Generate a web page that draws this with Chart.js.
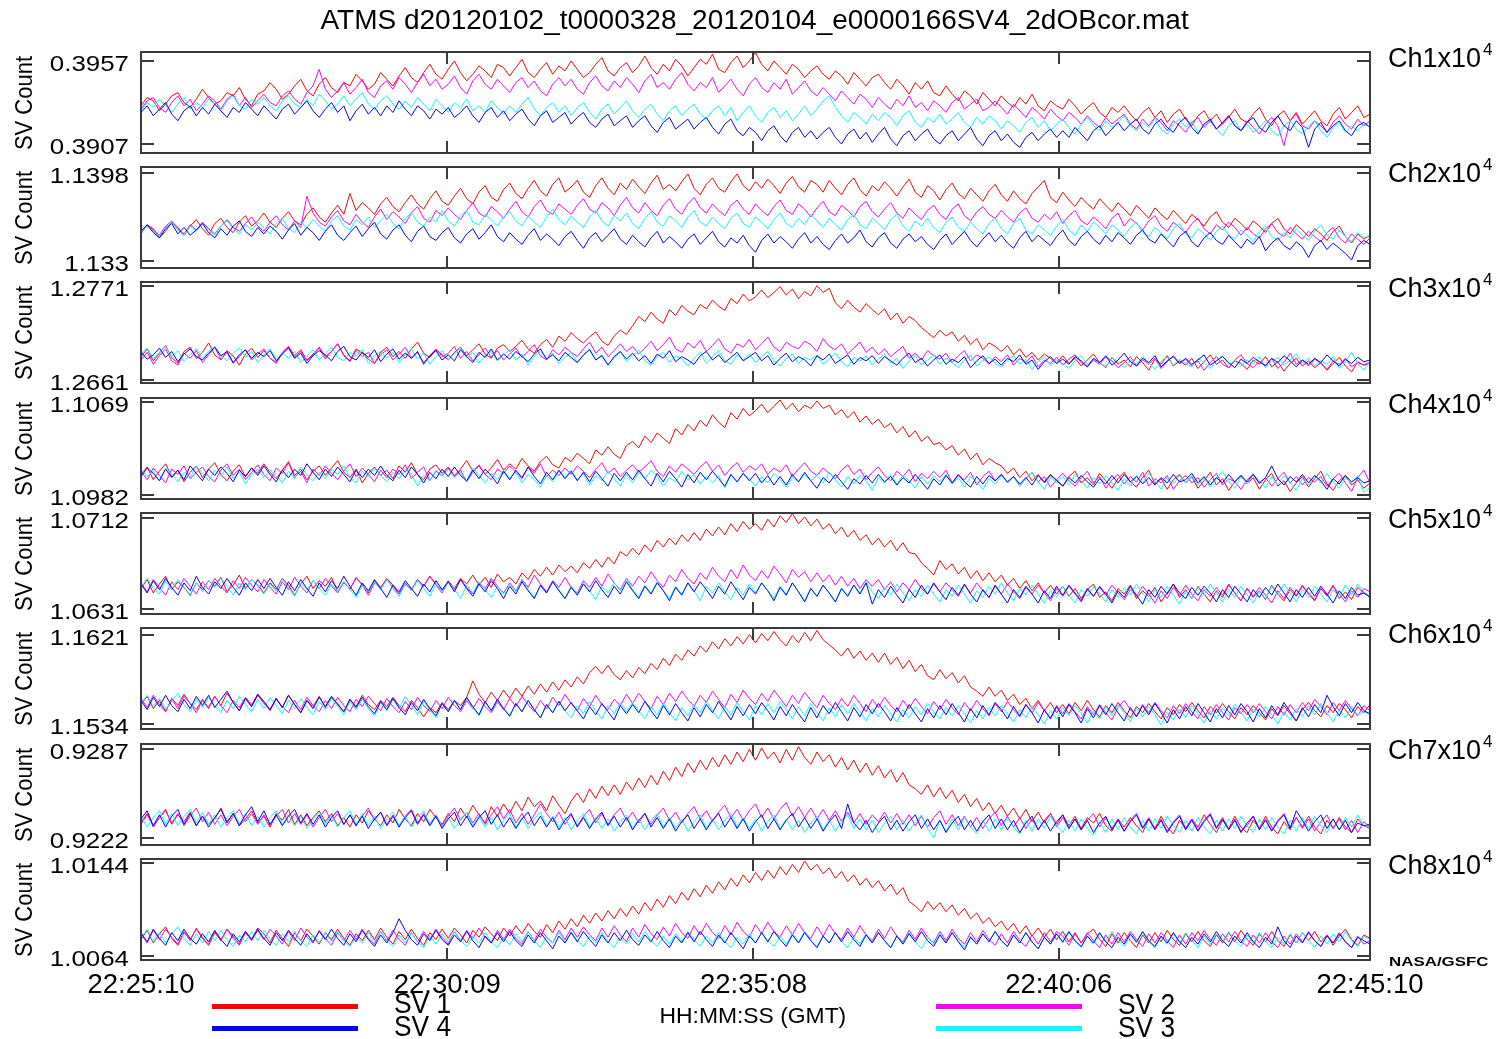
<!DOCTYPE html>
<html>
<head>
<meta charset="utf-8">
<title>ATMS space-view counts</title>
<script src="https://cdn.jsdelivr.net/npm/chart.js"></script>
<style>
  html, body { margin: 0; padding: 0; background: #fff; }
  #page { position: relative; width: 1501px; height: 1039px; overflow: hidden; background: #fff;
          font-family: "Liberation Sans", Arial, Helvetica, sans-serif; color: #000; }
  canvas.panel { position: absolute; left: 0; }
  .txt { position: absolute; white-space: nowrap; line-height: 1; }
  .swatch { position: absolute; height: 5px; }
</style>
</head>
<body>
<div id="page"></div>
<script>
// ---- Time axis (seconds after 22:25:10 GMT) ----
const SAMPLE_STEP_S = 6;
const X_MAX_S = 1200;
const XTICK_SECONDS = [0, 299, 598, 896, 1200];
const XTICK_LABELS = ['22:25:10', '22:30:09', '22:35:08', '22:40:06', '22:45:10'];

// ---- Channels: printed tick values (counts) and axis limits ----
const CHANNELS = ['Ch1', 'Ch2', 'Ch3', 'Ch4', 'Ch5', 'Ch6', 'Ch7', 'Ch8'];
const TICK_HI = [3957, 11398, 12771, 11069, 10712, 11621, 9287, 10144];
const TICK_LO = [3907, 11330, 12661, 10982, 10631, 11534, 9222, 10064];
const AXIS_MAX = [3962.4, 11402.3, 12775.3, 11072.8, 10716.5, 11627.4, 9290.9, 10147.7];
const AXIS_MIN = [3901.6, 11324.9, 12657.1, 10977.9, 10626.2, 11529.2, 9216.9, 10060.3];

// ---- Space-view counts, one sample every 6 s ----
const ch1_sv1 = [3930,3935,3933,3927,3931,3936,3938,3932,3929,3934,3940,3935,3931,3933,3938,3936,3941,3934,3930,3937,3939,3944,3940,3934,3937,3942,3946,3939,3936,3943,3947,3941,3938,3944,3942,3949,3945,3940,3943,3950,3946,3942,3948,3953,3947,3944,3950,3955,3949,3946,3952,3957,3950,3945,3949,3954,3951,3947,3955,3953,3948,3953,3958,3950,3947,3952,3956,3949,3954,3951,3957,3952,3947,3950,3955,3959,3951,3948,3953,3956,3950,3954,3960,3953,3949,3955,3951,3958,3954,3948,3953,3958,3955,3961,3952,3950,3956,3960,3953,3957,3962,3955,3951,3957,3953,3949,3955,3952,3947,3951,3954,3949,3946,3951,3948,3943,3950,3946,3942,3947,3949,3944,3940,3946,3942,3937,3944,3940,3945,3938,3936,3942,3937,3933,3939,3936,3931,3938,3934,3930,3936,3932,3929,3935,3931,3937,3930,3927,3933,3930,3928,3934,3930,3925,3929,3932,3926,3923,3929,3926,3930,3925,3921,3926,3929,3923,3927,3920,3925,3928,3922,3918,3924,3927,3921,3925,3919,3923,3928,3922,3920,3925,3929,3922,3918,3924,3927,3921,3926,3919,3923,3927,3921,3918,3925,3929,3922,3926,3930,3923,3925];
const ch1_sv2 = [3928,3933,3935,3929,3926,3932,3936,3930,3934,3927,3931,3936,3933,3928,3934,3937,3930,3935,3929,3933,3937,3932,3930,3936,3939,3934,3931,3938,3942,3952,3940,3935,3939,3944,3937,3941,3946,3938,3935,3942,3945,3940,3947,3943,3938,3944,3949,3942,3946,3940,3943,3948,3941,3937,3945,3949,3943,3940,3946,3942,3938,3944,3947,3941,3945,3939,3936,3943,3947,3942,3946,3940,3937,3944,3948,3942,3939,3945,3941,3947,3943,3938,3945,3949,3941,3944,3940,3946,3950,3943,3939,3944,3941,3947,3938,3942,3946,3940,3936,3943,3947,3941,3938,3944,3940,3946,3937,3941,3945,3939,3936,3941,3937,3933,3939,3935,3931,3937,3934,3929,3935,3931,3928,3934,3930,3936,3929,3932,3927,3933,3930,3926,3932,3935,3928,3931,3934,3927,3929,3933,3929,3925,3931,3927,3923,3929,3926,3922,3928,3924,3921,3926,3923,3919,3924,3920,3917,3923,3919,3922,3925,3919,3916,3922,3918,3923,3920,3915,3921,3918,3914,3920,3923,3917,3921,3916,3919,3924,3918,3915,3921,3917,3913,3919,3923,3918,3906,3921,3925,3918,3916,3921,3918,3914,3920,3924,3919,3916,3922,3918,3921];
const ch1_sv3 = [3927,3932,3929,3934,3930,3926,3931,3935,3928,3932,3929,3934,3931,3927,3933,3936,3930,3928,3934,3931,3935,3930,3927,3933,3936,3931,3929,3934,3930,3937,3933,3928,3931,3936,3930,3934,3938,3931,3928,3933,3936,3931,3928,3933,3929,3935,3931,3927,3934,3930,3926,3932,3929,3934,3927,3930,3926,3933,3929,3925,3930,3926,3931,3935,3928,3924,3929,3932,3926,3930,3924,3929,3932,3926,3922,3928,3931,3925,3929,3933,3927,3923,3928,3931,3925,3921,3927,3930,3924,3928,3931,3925,3922,3927,3930,3924,3929,3921,3926,3930,3924,3920,3926,3929,3923,3927,3921,3925,3930,3924,3928,3933,3936,3929,3924,3920,3926,3923,3919,3925,3921,3926,3923,3918,3924,3927,3920,3917,3923,3920,3925,3919,3922,3926,3920,3917,3923,3919,3924,3921,3916,3921,3918,3914,3920,3923,3917,3921,3915,3919,3922,3917,3913,3919,3923,3918,3915,3921,3917,3920,3924,3918,3915,3920,3917,3922,3916,3913,3919,3922,3917,3921,3914,3918,3922,3916,3912,3918,3921,3915,3919,3914,3917,3921,3915,3912,3918,3921,3916,3913,3918,3921,3915,3911,3917,3920,3914,3918,3915,3919,3917];
const ch1_sv4 = [3926,3930,3924,3928,3932,3925,3921,3927,3930,3924,3929,3925,3931,3927,3923,3929,3926,3932,3928,3924,3930,3926,3922,3928,3931,3925,3929,3933,3927,3923,3928,3932,3926,3930,3921,3927,3931,3925,3929,3924,3930,3926,3933,3928,3924,3930,3927,3922,3928,3925,3929,3923,3926,3930,3924,3920,3926,3929,3923,3927,3921,3925,3928,3922,3918,3924,3927,3920,3923,3926,3919,3923,3926,3920,3917,3922,3925,3918,3921,3924,3917,3921,3924,3918,3914,3920,3923,3916,3919,3922,3916,3920,3923,3917,3913,3919,3922,3915,3912,3917,3914,3909,3915,3918,3912,3908,3914,3917,3911,3915,3910,3914,3917,3911,3907,3913,3916,3910,3914,3908,3913,3917,3910,3906,3912,3915,3909,3913,3916,3910,3907,3912,3915,3909,3913,3917,3910,3906,3912,3915,3909,3913,3908,3905,3911,3914,3909,3913,3916,3911,3915,3911,3917,3913,3909,3915,3918,3912,3916,3920,3915,3919,3922,3916,3913,3919,3922,3917,3914,3920,3923,3917,3913,3919,3922,3916,3920,3924,3918,3915,3920,3923,3917,3914,3920,3924,3918,3915,3921,3917,3905,3916,3920,3914,3918,3921,3915,3912,3918,3920,3917];

const ch2_sv1 = [11351,11358,11355,11348,11353,11360,11356,11350,11357,11362,11355,11350,11359,11363,11356,11352,11360,11365,11357,11361,11367,11360,11356,11363,11368,11361,11358,11366,11371,11364,11360,11367,11373,11366,11382,11369,11375,11371,11366,11374,11379,11372,11368,11375,11381,11374,11370,11378,11384,11376,11373,11380,11386,11378,11374,11383,11388,11379,11376,11385,11390,11382,11378,11386,11392,11384,11380,11389,11394,11383,11387,11392,11383,11379,11388,11394,11386,11381,11390,11385,11393,11387,11382,11390,11396,11385,11389,11384,11391,11397,11386,11381,11389,11394,11386,11383,11391,11397,11388,11384,11391,11386,11393,11388,11382,11390,11395,11387,11383,11392,11389,11383,11392,11386,11381,11389,11394,11385,11380,11388,11384,11391,11386,11380,11387,11393,11383,11379,11388,11384,11377,11385,11390,11382,11378,11386,11381,11376,11384,11389,11381,11376,11384,11378,11374,11382,11387,11392,11379,11375,11383,11377,11372,11379,11374,11370,11378,11373,11368,11375,11370,11365,11373,11368,11363,11371,11366,11362,11369,11364,11359,11366,11362,11357,11364,11368,11360,11356,11363,11359,11354,11361,11357,11352,11359,11363,11355,11351,11358,11354,11349,11355,11351,11346,11353,11357,11349,11344,11351,11347,11350];
const ch2_sv2 = [11353,11358,11354,11350,11357,11361,11355,11351,11358,11354,11360,11355,11351,11357,11362,11356,11353,11359,11364,11357,11353,11360,11365,11358,11354,11361,11356,11380,11367,11360,11357,11364,11369,11361,11358,11366,11360,11356,11364,11370,11362,11368,11364,11359,11367,11372,11363,11360,11369,11365,11371,11366,11362,11369,11375,11367,11364,11372,11368,11363,11370,11376,11368,11364,11372,11377,11369,11366,11374,11370,11366,11373,11378,11370,11367,11375,11371,11365,11373,11379,11371,11367,11375,11369,11365,11373,11378,11370,11366,11374,11379,11371,11367,11374,11369,11365,11373,11377,11370,11366,11374,11369,11365,11372,11377,11369,11366,11374,11370,11364,11371,11376,11368,11365,11373,11369,11364,11372,11376,11368,11364,11370,11375,11367,11363,11371,11366,11362,11369,11373,11366,11362,11370,11374,11365,11361,11368,11372,11366,11363,11369,11364,11360,11367,11371,11363,11360,11366,11362,11368,11359,11365,11369,11361,11358,11364,11360,11355,11363,11367,11357,11363,11359,11354,11361,11365,11357,11353,11360,11356,11352,11359,11363,11355,11351,11358,11354,11360,11356,11350,11356,11351,11348,11355,11359,11352,11349,11356,11351,11347,11353,11349,11345,11352,11356,11348,11344,11351,11347,11343,11348];
const ch2_sv3 = [11352,11357,11353,11349,11356,11360,11354,11350,11357,11353,11359,11354,11350,11357,11361,11355,11351,11358,11354,11360,11356,11351,11359,11363,11355,11352,11360,11356,11362,11357,11353,11361,11365,11357,11354,11362,11358,11364,11356,11361,11366,11359,11355,11363,11367,11360,11357,11364,11360,11369,11361,11357,11365,11369,11360,11358,11366,11362,11357,11364,11368,11361,11357,11365,11360,11356,11364,11370,11362,11358,11365,11360,11356,11364,11369,11361,11357,11365,11361,11367,11359,11355,11363,11368,11360,11357,11365,11361,11356,11364,11369,11360,11357,11364,11359,11355,11363,11367,11359,11356,11364,11360,11355,11362,11367,11359,11356,11363,11358,11366,11361,11356,11363,11358,11354,11362,11366,11358,11355,11363,11359,11354,11362,11366,11357,11353,11361,11357,11363,11356,11352,11360,11364,11356,11353,11360,11355,11351,11359,11363,11355,11351,11359,11363,11354,11351,11358,11354,11350,11357,11362,11354,11350,11358,11353,11360,11356,11351,11358,11354,11349,11356,11360,11352,11349,11356,11352,11347,11355,11359,11351,11348,11355,11351,11346,11353,11357,11350,11347,11354,11350,11345,11353,11357,11349,11346,11352,11348,11355,11350,11346,11353,11358,11350,11347,11354,11349,11345,11352,11348,11350];
const ch2_sv4 = [11353,11358,11352,11348,11355,11359,11351,11356,11350,11354,11359,11352,11348,11355,11350,11357,11361,11353,11349,11356,11351,11357,11353,11347,11354,11359,11350,11356,11352,11346,11353,11358,11350,11346,11352,11357,11349,11355,11360,11351,11347,11354,11358,11350,11345,11353,11357,11349,11346,11352,11356,11348,11344,11351,11355,11347,11352,11358,11349,11345,11352,11347,11343,11350,11355,11346,11351,11347,11342,11349,11353,11346,11340,11348,11352,11345,11350,11355,11347,11343,11350,11345,11341,11348,11353,11344,11349,11345,11340,11347,11351,11343,11348,11353,11345,11341,11348,11344,11350,11342,11337,11346,11351,11344,11349,11345,11340,11347,11352,11344,11349,11343,11339,11346,11351,11344,11348,11354,11345,11341,11348,11352,11344,11340,11347,11351,11345,11349,11343,11339,11346,11351,11343,11348,11353,11346,11341,11347,11352,11345,11350,11344,11340,11348,11353,11345,11350,11346,11342,11349,11354,11346,11342,11349,11353,11347,11343,11350,11345,11352,11348,11343,11350,11354,11347,11344,11351,11346,11341,11349,11353,11345,11341,11348,11352,11346,11343,11350,11345,11340,11347,11343,11349,11338,11344,11348,11342,11339,11345,11341,11333,11342,11346,11339,11344,11340,11336,11331,11342,11346,11343];

const ch3_sv1 = [12688,12697,12683,12692,12701,12687,12680,12694,12699,12686,12693,12704,12690,12684,12695,12689,12678,12691,12698,12687,12695,12686,12681,12693,12700,12689,12696,12684,12691,12699,12688,12694,12703,12690,12683,12697,12692,12685,12680,12693,12699,12688,12694,12686,12697,12705,12692,12687,12696,12690,12684,12693,12699,12689,12696,12703,12691,12686,12698,12702,12694,12700,12707,12697,12692,12702,12708,12699,12712,12706,12716,12709,12704,12711,12717,12706,12701,12712,12719,12714,12724,12735,12729,12740,12732,12727,12743,12736,12748,12741,12737,12749,12744,12754,12747,12742,12756,12750,12761,12753,12758,12766,12757,12763,12770,12760,12767,12756,12764,12759,12771,12763,12768,12751,12744,12754,12746,12740,12750,12743,12737,12744,12731,12739,12727,12735,12730,12722,12716,12710,12719,12712,12717,12706,12713,12702,12709,12696,12704,12700,12694,12701,12690,12697,12687,12693,12684,12691,12686,12680,12689,12680,12686,12677,12684,12691,12681,12675,12687,12679,12684,12676,12688,12681,12672,12685,12679,12689,12677,12683,12678,12686,12674,12682,12690,12679,12684,12675,12683,12680,12673,12684,12679,12688,12676,12682,12671,12680,12686,12677,12683,12675,12681,12672,12680,12687,12677,12670,12682,12678,12680];
const ch3_sv2 = [12684,12693,12679,12689,12697,12683,12678,12692,12686,12695,12681,12690,12699,12685,12693,12680,12688,12696,12684,12691,12697,12686,12680,12692,12699,12687,12694,12683,12690,12698,12685,12694,12703,12689,12682,12695,12688,12693,12680,12690,12696,12684,12691,12699,12686,12693,12681,12689,12697,12688,12692,12700,12686,12694,12683,12690,12698,12687,12695,12684,12691,12698,12687,12694,12702,12689,12684,12696,12690,12699,12693,12688,12697,12705,12692,12699,12688,12695,12703,12694,12700,12691,12698,12706,12695,12702,12711,12697,12693,12704,12698,12707,12694,12701,12709,12697,12692,12703,12699,12708,12696,12703,12711,12699,12694,12705,12700,12697,12706,12702,12694,12709,12700,12696,12703,12691,12698,12705,12693,12699,12690,12697,12688,12694,12700,12686,12692,12684,12695,12689,12685,12692,12681,12689,12695,12683,12690,12686,12679,12688,12682,12690,12678,12686,12681,12689,12676,12684,12680,12687,12678,12685,12690,12681,12676,12684,12679,12688,12683,12675,12681,12688,12677,12684,12679,12686,12674,12682,12689,12680,12685,12677,12683,12672,12681,12688,12679,12675,12684,12690,12680,12675,12683,12678,12686,12674,12681,12692,12679,12684,12677,12685,12680,12673,12683,12679,12686,12676,12681,12678,12682];
const ch3_sv3 = [12691,12698,12685,12693,12700,12688,12695,12682,12690,12697,12686,12694,12700,12689,12683,12692,12698,12687,12694,12681,12690,12697,12685,12692,12686,12694,12681,12689,12696,12684,12692,12699,12687,12683,12693,12688,12696,12680,12689,12694,12686,12693,12681,12690,12697,12685,12692,12679,12688,12695,12684,12691,12698,12686,12693,12680,12689,12694,12683,12690,12696,12684,12691,12678,12688,12694,12685,12692,12680,12687,12693,12681,12689,12697,12684,12690,12679,12686,12694,12682,12689,12696,12683,12678,12688,12693,12681,12689,12685,12677,12686,12693,12680,12688,12695,12683,12679,12690,12684,12691,12681,12688,12694,12683,12677,12686,12691,12680,12687,12684,12690,12679,12685,12692,12682,12676,12687,12683,12689,12678,12685,12691,12680,12686,12674,12683,12689,12678,12684,12690,12679,12686,12681,12675,12684,12690,12677,12683,12688,12680,12676,12684,12689,12679,12685,12673,12682,12688,12678,12684,12680,12674,12683,12689,12678,12685,12681,12676,12686,12682,12675,12684,12679,12688,12681,12673,12683,12687,12678,12685,12680,12676,12686,12681,12674,12684,12689,12679,12683,12677,12684,12679,12688,12675,12682,12687,12678,12684,12691,12680,12686,12677,12683,12679,12688,12674,12682,12693,12680,12672,12683];
const ch3_sv4 = [12693,12685,12690,12698,12687,12694,12682,12691,12697,12688,12684,12692,12699,12689,12694,12681,12690,12696,12686,12693,12688,12695,12683,12691,12698,12686,12692,12680,12689,12695,12690,12683,12694,12700,12688,12684,12693,12687,12696,12682,12691,12697,12685,12692,12686,12694,12679,12689,12695,12684,12690,12683,12696,12688,12681,12693,12687,12697,12684,12691,12685,12694,12688,12682,12691,12697,12685,12690,12683,12693,12687,12681,12690,12696,12684,12689,12678,12688,12694,12685,12692,12683,12689,12680,12691,12686,12695,12682,12688,12684,12679,12689,12694,12684,12690,12681,12687,12693,12683,12688,12693,12683,12689,12678,12686,12692,12682,12688,12684,12677,12689,12684,12691,12680,12685,12690,12679,12687,12683,12689,12680,12688,12683,12678,12686,12692,12681,12686,12677,12684,12690,12679,12685,12681,12688,12675,12683,12689,12680,12685,12678,12686,12682,12690,12679,12684,12673,12682,12688,12680,12685,12679,12688,12683,12676,12686,12681,12689,12678,12684,12692,12682,12677,12686,12681,12689,12676,12683,12688,12680,12686,12679,12684,12690,12678,12683,12688,12681,12675,12685,12680,12687,12682,12677,12686,12681,12689,12683,12676,12684,12679,12686,12681,12690,12683,12677,12685,12680,12687,12682,12684];

const ch4_sv1 = [11001,11008,10996,11004,11011,10999,11005,10994,11003,11009,10998,11006,11012,11001,10995,11004,11010,10999,11007,11002,11011,11003,10997,11005,11013,11000,11006,10996,11004,11009,11000,11007,11014,11003,10998,11006,10993,11002,11008,11000,11005,10997,11009,11003,11012,11001,10996,11006,11010,11002,11008,11000,11006,11014,11004,11009,11001,11007,11015,11005,11011,11006,11016,11009,11004,11013,11018,11010,11007,11017,11013,11021,11016,11011,11024,11019,11027,11020,11016,11028,11032,11026,11037,11031,11040,11035,11030,11044,11038,11048,11042,11052,11046,11057,11050,11045,11059,11053,11063,11056,11061,11067,11059,11065,11071,11062,11068,11060,11066,11063,11070,11063,11066,11057,11062,11054,11060,11050,11056,11048,11053,11045,11049,11040,11046,11036,11042,11032,11037,11029,11031,11024,11028,11019,11025,11015,11021,11010,11016,11012,11009,11002,11007,10998,11004,10995,11001,10993,11000,10996,10990,10999,11004,10993,10998,10991,11002,10995,10988,10997,11003,10994,10989,10998,11005,10992,10997,10987,10996,11001,10993,10999,10988,10995,11003,10991,10997,10986,10994,11000,10992,10998,10987,10996,11002,10990,10995,10985,10993,10999,10989,10997,11004,10992,10986,10995,11000,10991,10996,10988,10993];
const ch4_sv2 = [11004,10996,11007,11000,10993,11006,11001,11009,10997,11003,11008,10999,10994,11005,11011,11000,11006,10996,11003,11010,11001,10995,11007,11002,11012,10998,11004,10993,11006,11000,11009,11002,10996,11004,11011,10999,11007,11001,10994,11005,10998,11006,11001,11010,10997,11003,11008,10995,11004,11000,11007,10999,11005,10994,11003,11010,11001,10996,11006,11002,11009,11003,10997,11008,11002,11011,10999,11005,11000,11007,11001,11009,11004,10998,11006,11012,11002,11007,10999,11005,11010,11003,11008,11014,11004,10999,11009,11003,11011,11006,11001,11008,11013,11004,11010,11000,11007,11012,11003,11009,11005,11011,11001,11007,11003,11010,10999,11006,11012,11004,11000,11007,11002,10997,11005,11010,11001,11006,10996,11003,11008,11000,10995,11004,10999,11006,10994,11002,10997,11004,10998,11005,10993,11000,10996,11003,10991,10999,11004,10995,11001,10993,10999,10990,10997,11003,10994,10999,10989,10996,11002,10995,10990,10998,11004,10993,10999,10988,10996,11001,10992,10999,10994,11003,10990,10997,10993,11000,10987,10995,11000,10993,10998,10989,10996,11002,10991,10997,10994,10987,10996,11001,10992,10998,10990,10997,11003,10993,10999,10991,10998,10994,10999,10990,10997,11002,10993,10985,10998,11005,10993];
const ch4_sv3 = [11006,10999,11004,10995,11007,11001,10994,11003,10998,11009,11002,10995,11005,10999,11008,10997,11003,10992,11001,11006,10998,11005,11000,10993,11004,10997,11008,11001,10995,11003,10997,11006,11001,11009,10998,10993,11004,10999,11007,11000,10994,11003,10997,11006,11001,10990,11000,10995,11005,10999,11006,10998,11003,10994,11007,11000,10993,11002,10996,11005,10997,11004,10993,11001,10996,10989,11000,10994,11004,10998,11005,10996,11002,10991,11000,10995,11004,10997,10990,11001,10993,11003,10997,11005,10999,10990,10998,10994,11004,10996,11001,10992,10999,10993,11000,10988,11001,10994,11002,10997,10990,10999,10993,11002,10996,10989,10998,10994,11001,10995,11000,10993,11003,10996,10989,10999,10992,11000,10995,10986,10998,10993,11001,10992,11000,10995,10988,10999,10992,11000,10994,11001,10992,10998,10989,10999,10994,10987,10997,10992,11000,10993,10999,10990,10997,11003,10994,10987,10998,10993,10999,10991,11001,10995,10988,10998,10992,11000,10993,10986,10997,10990,11000,10993,11002,10995,10987,10998,10992,11000,10993,11000,10991,10998,10989,10997,11004,10994,10988,10999,10992,11001,10995,10988,10999,10991,11000,10993,10986,10997,10991,11000,10993,11002,10994,10988,10998,10993,11000,10984,10989];
const ch4_sv4 = [10999,11007,11002,10995,11006,10998,11005,10996,11009,11002,10995,11006,11000,11008,11002,10994,11005,10999,11007,11000,11009,11001,10994,11005,10998,11006,11000,11011,11003,10996,11006,10999,11008,11001,10994,11005,10998,11006,11000,11009,11000,10995,11005,10998,11008,11001,10993,11003,10997,11006,10999,11008,11000,10995,11005,10997,11006,11000,10992,11004,10996,11005,10998,11008,10999,10992,11003,10996,11005,10997,11004,10995,11003,10994,11004,10997,10990,11002,10995,11003,10996,11005,10997,10990,11002,10994,11004,10997,10989,11001,10993,11003,10996,11004,10997,10990,11001,10994,11002,10995,11002,10993,11000,10991,10999,10991,11001,10994,11003,10995,10988,10998,10993,11001,10994,10987,10997,10992,11000,10993,11001,10994,10999,10991,10998,10993,11001,10994,10987,10997,10991,11000,10993,11001,10994,10989,10999,10992,11000,10995,11001,10994,10999,10992,10998,10991,11000,10994,11001,10995,10990,10998,10993,11000,10994,10989,10997,10992,11000,10993,11001,10994,10999,10992,10998,10991,10998,10993,11001,10994,10996,11002,10993,10999,10991,10998,10993,11001,10994,11000,10994,11001,10993,10998,11009,10997,10991,10999,10994,11001,10993,11000,10995,10987,10997,10992,11000,10994,10998,10993,10995];

const ch5_sv1 = [10649,10657,10645,10653,10660,10648,10655,10650,10643,10654,10648,10656,10651,10659,10646,10652,10661,10649,10657,10652,10645,10654,10648,10658,10652,10643,10653,10660,10649,10656,10651,10659,10646,10654,10649,10658,10653,10645,10656,10650,10658,10652,10644,10653,10648,10657,10651,10660,10653,10647,10656,10649,10658,10653,10661,10652,10659,10650,10662,10655,10659,10653,10663,10657,10666,10660,10668,10661,10670,10664,10669,10663,10672,10667,10675,10668,10677,10671,10682,10678,10685,10679,10688,10682,10692,10686,10694,10688,10697,10691,10699,10692,10702,10696,10704,10697,10707,10700,10709,10702,10707,10701,10711,10704,10714,10708,10716,10707,10713,10705,10711,10702,10707,10698,10704,10695,10701,10692,10697,10688,10694,10686,10692,10683,10690,10681,10680,10672,10667,10661,10674,10666,10671,10662,10668,10658,10665,10656,10663,10655,10661,10652,10658,10649,10656,10647,10654,10645,10652,10644,10651,10642,10649,10640,10648,10653,10641,10646,10638,10649,10644,10652,10640,10647,10642,10650,10637,10645,10653,10641,10648,10640,10651,10644,10637,10647,10641,10652,10645,10638,10649,10641,10647,10639,10652,10644,10638,10648,10642,10651,10644,10638,10649,10643,10652,10640,10646,10639,10650,10645,10642];
const ch5_sv2 = [10654,10646,10657,10650,10643,10655,10648,10658,10651,10644,10655,10648,10658,10651,10645,10656,10649,10659,10652,10646,10657,10650,10644,10655,10648,10659,10651,10645,10656,10649,10658,10651,10645,10655,10648,10659,10652,10643,10654,10649,10657,10650,10644,10654,10647,10657,10651,10660,10652,10645,10655,10648,10657,10650,10644,10654,10649,10658,10651,10645,10654,10647,10657,10650,10661,10653,10646,10656,10650,10659,10650,10645,10656,10650,10659,10651,10662,10654,10648,10658,10651,10660,10654,10664,10656,10650,10661,10655,10666,10658,10653,10663,10657,10668,10660,10655,10666,10658,10670,10661,10656,10665,10658,10669,10662,10654,10666,10659,10664,10655,10663,10655,10661,10652,10660,10651,10658,10649,10657,10651,10657,10648,10655,10646,10654,10648,10657,10649,10644,10653,10646,10654,10648,10642,10652,10645,10654,10647,10641,10651,10644,10653,10646,10640,10650,10644,10652,10645,10638,10649,10642,10651,10644,10637,10648,10642,10650,10643,10652,10645,10639,10648,10642,10651,10644,10636,10647,10640,10650,10643,10652,10644,10638,10648,10642,10650,10643,10653,10645,10638,10649,10642,10650,10643,10636,10647,10640,10650,10643,10652,10645,10639,10649,10642,10651,10644,10637,10647,10641,10649,10646];
const ch5_sv3 = [10650,10658,10649,10644,10656,10648,10657,10650,10642,10654,10646,10656,10650,10658,10651,10643,10654,10648,10657,10651,10644,10653,10647,10657,10650,10642,10654,10648,10656,10649,10643,10653,10646,10655,10648,10641,10652,10646,10655,10648,10657,10649,10642,10653,10647,10656,10649,10642,10653,10646,10655,10648,10640,10652,10645,10655,10648,10641,10651,10644,10653,10646,10656,10648,10641,10651,10645,10655,10648,10640,10651,10644,10654,10647,10639,10651,10645,10654,10647,10657,10648,10641,10652,10645,10655,10647,10640,10651,10644,10654,10647,10638,10651,10645,10654,10646,10639,10650,10643,10653,10645,10654,10647,10640,10651,10644,10654,10646,10638,10649,10642,10652,10645,10637,10649,10643,10652,10645,10655,10646,10640,10650,10643,10653,10645,10638,10648,10642,10652,10644,10637,10648,10642,10652,10644,10636,10647,10641,10651,10644,10654,10645,10638,10649,10643,10652,10644,10636,10647,10641,10651,10643,10636,10648,10642,10651,10644,10637,10648,10641,10650,10643,10653,10645,10637,10648,10641,10651,10643,10635,10647,10640,10650,10643,10653,10645,10637,10648,10641,10651,10643,10636,10647,10640,10651,10643,10653,10645,10637,10648,10641,10651,10644,10637,10648,10641,10652,10643,10653,10646,10642];
const ch5_sv4 = [10653,10645,10656,10648,10658,10650,10643,10654,10647,10660,10650,10644,10655,10649,10658,10650,10643,10654,10647,10657,10649,10658,10650,10643,10655,10647,10657,10649,10642,10654,10646,10656,10649,10660,10651,10643,10654,10647,10657,10649,10641,10652,10646,10656,10649,10642,10653,10646,10656,10648,10655,10646,10657,10649,10642,10653,10646,10656,10649,10640,10651,10644,10655,10647,10640,10652,10645,10655,10647,10640,10650,10643,10653,10646,10656,10648,10641,10651,10644,10655,10647,10640,10651,10644,10654,10647,10638,10650,10643,10654,10646,10655,10648,10640,10651,10644,10655,10647,10639,10650,10644,10654,10647,10638,10650,10643,10654,10646,10637,10649,10642,10652,10645,10637,10649,10642,10652,10644,10654,10635,10648,10641,10651,10643,10636,10648,10641,10652,10644,10654,10646,10639,10650,10643,10653,10644,10637,10648,10641,10652,10644,10636,10648,10641,10651,10644,10636,10647,10640,10651,10643,10652,10645,10638,10649,10642,10651,10644,10636,10647,10641,10651,10643,10635,10648,10641,10651,10644,10653,10645,10640,10650,10643,10651,10645,10637,10648,10641,10651,10644,10637,10648,10641,10650,10643,10653,10645,10637,10648,10641,10650,10642,10651,10644,10636,10647,10640,10650,10643,10645,10641];

const ch6_sv1 = [11553,11561,11549,11557,11546,11559,11552,11563,11554,11548,11558,11550,11561,11552,11564,11555,11547,11559,11551,11562,11554,11548,11559,11550,11562,11553,11545,11557,11551,11561,11550,11560,11554,11546,11558,11551,11562,11553,11548,11557,11551,11560,11552,11546,11557,11550,11541,11550,11545,11555,11548,11557,11552,11560,11576,11563,11555,11565,11557,11567,11559,11569,11561,11571,11563,11573,11565,11575,11567,11577,11570,11580,11573,11584,11590,11583,11591,11582,11577,11586,11579,11589,11583,11593,11587,11598,11591,11602,11596,11606,11600,11610,11604,11614,11607,11617,11610,11619,11612,11621,11613,11622,11615,11624,11616,11610,11620,11613,11623,11615,11625,11616,11611,11606,11600,11608,11598,11605,11596,11603,11594,11603,11592,11599,11588,11596,11585,11592,11581,11577,11587,11578,11584,11574,11581,11570,11566,11561,11570,11561,11567,11557,11563,11553,11559,11549,11557,11547,11555,11545,11553,11544,11555,11547,11557,11548,11541,11552,11545,11555,11547,11540,11551,11545,11554,11546,11539,11550,11543,11553,11546,11555,11547,11540,11551,11545,11554,11546,11539,11550,11543,11552,11545,11538,11549,11542,11552,11544,11537,11548,11555,11547,11541,11552,11545,11554,11548,11540,11551,11545,11553];
const ch6_sv2 = [11559,11550,11562,11553,11546,11558,11549,11561,11554,11545,11557,11549,11561,11552,11545,11557,11550,11560,11553,11563,11555,11547,11558,11551,11545,11557,11548,11560,11552,11546,11557,11549,11560,11552,11546,11558,11551,11561,11554,11547,11559,11551,11545,11556,11548,11560,11552,11546,11557,11549,11560,11552,11546,11557,11549,11559,11551,11545,11556,11548,11559,11551,11561,11553,11546,11557,11549,11560,11552,11563,11554,11547,11559,11551,11562,11553,11548,11558,11552,11563,11554,11564,11556,11549,11561,11553,11564,11556,11566,11558,11551,11562,11555,11566,11558,11550,11563,11555,11567,11559,11553,11564,11556,11567,11559,11551,11562,11554,11565,11557,11550,11562,11554,11548,11559,11551,11562,11554,11546,11558,11550,11560,11552,11546,11557,11549,11559,11551,11544,11556,11548,11558,11550,11543,11555,11547,11557,11549,11542,11554,11546,11556,11548,11541,11553,11545,11555,11547,11540,11552,11544,11554,11546,11539,11551,11543,11553,11545,11538,11550,11557,11548,11542,11553,11545,11555,11547,11540,11552,11544,11554,11546,11539,11551,11543,11553,11545,11538,11550,11544,11553,11545,11554,11546,11539,11551,11543,11553,11545,11555,11547,11558,11551,11543,11555,11547,11557,11549,11542,11552,11547];
const ch6_sv3 = [11554,11562,11551,11559,11548,11556,11564,11553,11546,11558,11550,11560,11552,11545,11557,11549,11561,11553,11546,11558,11549,11560,11552,11544,11557,11549,11559,11550,11543,11556,11548,11559,11551,11543,11556,11548,11558,11549,11542,11555,11547,11558,11549,11561,11552,11543,11556,11548,11540,11554,11546,11557,11548,11559,11550,11542,11555,11547,11558,11549,11541,11554,11546,11557,11548,11540,11553,11545,11556,11547,11540,11552,11544,11556,11547,11539,11552,11544,11555,11546,11555,11547,11539,11551,11543,11554,11545,11537,11550,11542,11553,11545,11556,11547,11539,11551,11543,11555,11546,11538,11552,11543,11554,11545,11556,11548,11539,11551,11542,11554,11545,11537,11550,11541,11553,11544,11554,11546,11537,11549,11541,11552,11544,11536,11548,11540,11551,11543,11554,11546,11539,11550,11542,11552,11544,11535,11547,11539,11550,11542,11552,11544,11536,11548,11540,11551,11543,11534,11547,11539,11550,11542,11552,11544,11535,11547,11539,11551,11542,11553,11545,11536,11549,11541,11551,11543,11533,11546,11538,11549,11540,11552,11544,11535,11547,11539,11550,11542,11553,11545,11537,11549,11541,11551,11543,11534,11546,11538,11549,11541,11552,11543,11554,11545,11536,11548,11540,11551,11543,11546,11543];
const ch6_sv4 = [11557,11548,11560,11551,11562,11552,11546,11558,11549,11561,11552,11562,11550,11558,11566,11555,11547,11559,11551,11563,11556,11548,11559,11550,11562,11553,11545,11557,11549,11560,11551,11561,11553,11546,11558,11550,11560,11551,11544,11556,11548,11559,11550,11543,11555,11547,11558,11549,11542,11554,11546,11557,11548,11560,11551,11543,11556,11547,11558,11549,11542,11554,11546,11557,11548,11540,11553,11545,11556,11547,11555,11547,11539,11551,11543,11554,11546,11538,11552,11544,11553,11545,11556,11547,11539,11552,11543,11554,11545,11537,11550,11541,11553,11545,11556,11547,11538,11551,11542,11553,11544,11555,11547,11538,11551,11542,11553,11544,11536,11550,11540,11552,11544,11555,11546,11537,11550,11541,11553,11544,11554,11546,11537,11550,11541,11553,11544,11536,11549,11540,11552,11543,11554,11545,11536,11549,11540,11552,11543,11555,11548,11539,11551,11542,11553,11545,11535,11548,11539,11551,11541,11553,11545,11535,11549,11540,11552,11543,11554,11545,11537,11550,11541,11552,11543,11554,11545,11535,11548,11539,11551,11542,11554,11545,11536,11549,11540,11552,11543,11554,11546,11536,11549,11540,11552,11543,11555,11546,11537,11550,11541,11553,11545,11562,11551,11542,11554,11545,11555,11547,11544];

const ch7_sv1 = [9233,9240,9230,9237,9243,9232,9239,9234,9241,9231,9238,9232,9236,9244,9234,9240,9231,9236,9242,9233,9238,9230,9240,9235,9243,9232,9239,9231,9237,9242,9234,9240,9231,9237,9230,9239,9233,9242,9236,9231,9239,9233,9243,9236,9231,9240,9234,9243,9237,9232,9240,9234,9244,9237,9246,9239,9233,9245,9238,9247,9240,9249,9242,9252,9245,9249,9242,9253,9246,9240,9249,9255,9248,9258,9251,9260,9253,9261,9254,9263,9257,9266,9259,9268,9261,9271,9264,9274,9267,9277,9270,9279,9272,9281,9274,9283,9276,9285,9278,9287,9279,9288,9280,9285,9277,9287,9279,9289,9281,9276,9285,9278,9283,9274,9281,9272,9279,9270,9277,9268,9275,9266,9272,9263,9270,9261,9258,9254,9261,9252,9259,9251,9257,9248,9254,9245,9251,9242,9248,9240,9246,9238,9244,9236,9243,9234,9241,9233,9240,9232,9239,9231,9238,9229,9237,9233,9240,9231,9227,9236,9230,9237,9231,9226,9236,9229,9238,9230,9225,9235,9229,9236,9230,9239,9232,9226,9235,9229,9238,9230,9226,9235,9229,9238,9230,9225,9234,9228,9237,9230,9238,9230,9225,9235,9229,9237,9230,9226,9236,9231,9229];
const ch7_sv2 = [9232,9239,9231,9237,9242,9233,9240,9231,9238,9244,9234,9241,9232,9239,9231,9238,9243,9234,9240,9232,9239,9231,9238,9243,9233,9240,9232,9239,9230,9237,9243,9234,9240,9232,9239,9231,9238,9244,9235,9241,9232,9239,9231,9238,9243,9233,9240,9232,9239,9231,9238,9244,9235,9241,9233,9240,9232,9239,9245,9236,9243,9233,9240,9232,9239,9247,9240,9234,9241,9232,9239,9231,9238,9243,9233,9240,9232,9239,9244,9235,9241,9233,9240,9232,9239,9244,9235,9241,9233,9240,9245,9236,9242,9234,9241,9246,9237,9243,9235,9242,9247,9237,9244,9236,9243,9248,9238,9245,9237,9244,9236,9243,9235,9242,9234,9241,9233,9240,9232,9239,9234,9241,9233,9240,9232,9239,9231,9238,9230,9237,9242,9232,9239,9231,9238,9230,9237,9229,9236,9241,9231,9238,9230,9237,9229,9236,9228,9235,9240,9230,9237,9229,9236,9228,9235,9240,9230,9237,9229,9236,9227,9235,9240,9230,9237,9229,9236,9227,9234,9239,9229,9236,9228,9235,9240,9230,9237,9229,9236,9227,9231,9238,9229,9236,9228,9235,9240,9230,9237,9229,9236,9227,9234,9239,9229,9236,9228,9235,9226,9234,9230];
const ch7_sv3 = [9238,9230,9237,9242,9232,9240,9231,9238,9243,9233,9241,9232,9239,9230,9237,9242,9232,9240,9231,9238,9230,9237,9242,9232,9239,9231,9238,9229,9236,9241,9232,9239,9230,9237,9242,9232,9240,9231,9238,9229,9236,9241,9231,9238,9230,9237,9242,9232,9239,9230,9237,9229,9236,9241,9231,9238,9230,9237,9228,9235,9240,9230,9237,9229,9236,9241,9231,9238,9230,9237,9228,9235,9240,9230,9237,9229,9236,9227,9234,9239,9229,9236,9228,9235,9240,9230,9237,9229,9236,9227,9234,9239,9229,9236,9228,9235,9240,9230,9237,9229,9236,9227,9234,9239,9229,9236,9228,9235,9226,9233,9238,9228,9235,9227,9234,9239,9229,9236,9228,9235,9226,9233,9238,9228,9235,9227,9234,9239,9229,9222,9235,9227,9236,9228,9237,9230,9225,9235,9227,9236,9228,9237,9230,9225,9235,9227,9236,9229,9238,9231,9226,9235,9227,9236,9229,9224,9234,9226,9236,9228,9237,9230,9225,9235,9227,9236,9229,9238,9231,9226,9235,9227,9237,9230,9225,9235,9227,9236,9229,9238,9231,9226,9236,9228,9237,9230,9225,9235,9227,9237,9229,9238,9231,9226,9236,9228,9237,9230,9239,9231,9230];
const ch7_sv4 = [9236,9242,9231,9239,9230,9238,9243,9232,9240,9231,9238,9230,9237,9243,9233,9240,9231,9239,9245,9234,9242,9232,9239,9231,9238,9243,9233,9240,9232,9239,9230,9237,9242,9232,9239,9231,9238,9229,9236,9241,9231,9238,9230,9237,9242,9232,9239,9231,9238,9229,9236,9241,9231,9238,9230,9237,9242,9232,9239,9230,9237,9229,9236,9241,9231,9238,9230,9237,9228,9235,9240,9230,9237,9229,9236,9241,9231,9238,9230,9237,9228,9235,9240,9230,9237,9229,9236,9227,9234,9239,9229,9236,9228,9235,9240,9230,9237,9229,9236,9227,9234,9239,9229,9236,9228,9235,9240,9230,9237,9229,9236,9227,9234,9239,9229,9247,9233,9228,9235,9226,9233,9238,9228,9235,9227,9234,9239,9229,9236,9228,9235,9226,9233,9238,9228,9235,9227,9234,9239,9229,9236,9228,9235,9226,9233,9238,9228,9235,9227,9234,9239,9229,9236,9228,9235,9226,9233,9238,9228,9235,9227,9234,9239,9229,9236,9228,9235,9226,9233,9238,9228,9235,9227,9234,9239,9229,9236,9228,9235,9226,9233,9238,9228,9235,9227,9234,9239,9229,9242,9235,9227,9234,9239,9229,9236,9228,9235,9226,9233,9231,9232];

const ch8_sv1 = [10078,10086,10075,10083,10089,10079,10073,10084,10078,10087,10079,10073,10084,10077,10087,10081,10074,10085,10078,10088,10083,10075,10086,10079,10072,10084,10077,10087,10081,10074,10084,10078,10087,10079,10073,10083,10077,10086,10078,10088,10080,10074,10085,10078,10087,10079,10073,10084,10078,10087,10079,10088,10082,10075,10086,10080,10089,10083,10077,10088,10081,10090,10083,10092,10085,10080,10091,10084,10094,10087,10096,10089,10099,10092,10101,10094,10103,10096,10105,10098,10107,10100,10110,10103,10113,10106,10116,10109,10119,10112,10122,10115,10125,10118,10128,10121,10131,10124,10134,10127,10136,10129,10138,10131,10141,10134,10143,10136,10146,10138,10143,10135,10140,10131,10137,10128,10134,10125,10131,10123,10129,10120,10126,10117,10123,10111,10107,10102,10111,10104,10110,10102,10108,10099,10105,10096,10101,10092,10097,10089,10094,10086,10092,10083,10090,10081,10088,10080,10087,10078,10085,10076,10084,10075,10083,10087,10078,10072,10083,10075,10084,10077,10071,10082,10075,10084,10076,10086,10078,10073,10083,10076,10085,10077,10072,10082,10075,10084,10076,10086,10078,10073,10083,10076,10085,10077,10072,10082,10075,10084,10077,10085,10076,10082,10073,10081,10087,10078,10073,10082,10079];
const ch8_sv2 = [10083,10075,10086,10078,10087,10080,10074,10085,10077,10088,10080,10074,10085,10078,10087,10079,10073,10084,10077,10086,10078,10087,10081,10074,10085,10077,10088,10080,10075,10086,10079,10073,10084,10077,10086,10078,10087,10079,10074,10085,10077,10086,10078,10073,10084,10076,10085,10078,10087,10080,10074,10085,10077,10086,10079,10088,10080,10075,10086,10078,10087,10079,10074,10085,10077,10087,10080,10075,10086,10078,10088,10080,10089,10082,10077,10088,10080,10090,10082,10076,10088,10080,10091,10083,10078,10089,10081,10092,10084,10079,10090,10082,10092,10084,10079,10090,10082,10093,10085,10080,10091,10083,10093,10085,10080,10090,10082,10092,10084,10079,10089,10081,10091,10083,10078,10088,10080,10090,10082,10077,10087,10079,10089,10081,10076,10086,10078,10088,10080,10075,10085,10077,10087,10079,10074,10084,10076,10086,10078,10073,10083,10075,10085,10077,10072,10082,10074,10084,10076,10085,10081,10073,10083,10075,10084,10077,10071,10082,10074,10084,10076,10085,10078,10072,10083,10075,10084,10077,10071,10082,10074,10084,10077,10086,10078,10073,10083,10076,10085,10077,10072,10082,10075,10084,10076,10071,10081,10074,10083,10076,10085,10077,10072,10082,10075,10084,10076,10071,10081,10074,10077];
const ch8_sv3 = [10079,10087,10076,10084,10075,10083,10089,10079,10073,10083,10075,10085,10077,10086,10078,10072,10082,10076,10085,10077,10086,10078,10073,10083,10076,10085,10077,10072,10082,10075,10084,10076,10085,10077,10072,10081,10075,10084,10076,10085,10077,10072,10082,10075,10084,10076,10071,10081,10074,10083,10076,10085,10077,10072,10081,10075,10084,10076,10071,10080,10073,10083,10076,10085,10077,10071,10081,10075,10084,10076,10085,10077,10072,10081,10075,10084,10076,10071,10080,10074,10083,10076,10085,10077,10072,10081,10074,10083,10076,10085,10078,10072,10081,10075,10084,10076,10071,10080,10074,10083,10075,10084,10077,10072,10081,10074,10083,10076,10085,10077,10072,10081,10075,10084,10076,10071,10080,10074,10083,10075,10084,10077,10071,10081,10075,10084,10076,10070,10080,10074,10083,10075,10084,10077,10071,10081,10074,10083,10076,10085,10077,10072,10082,10075,10084,10076,10070,10080,10074,10083,10075,10084,10077,10071,10081,10074,10083,10076,10085,10077,10072,10082,10075,10084,10076,10071,10080,10074,10083,10075,10084,10077,10071,10081,10074,10083,10076,10085,10077,10072,10082,10075,10084,10076,10071,10080,10074,10083,10075,10084,10077,10071,10081,10074,10083,10076,10085,10077,10072,10081,10078];
const ch8_sv4 = [10084,10076,10087,10079,10073,10084,10077,10087,10079,10074,10083,10076,10086,10078,10072,10083,10076,10085,10078,10087,10079,10073,10084,10077,10086,10079,10073,10083,10076,10085,10078,10087,10079,10073,10083,10076,10086,10078,10072,10082,10075,10084,10096,10086,10078,10073,10083,10077,10086,10078,10073,10082,10076,10085,10077,10071,10081,10075,10084,10076,10085,10077,10072,10082,10075,10084,10077,10070,10081,10075,10084,10076,10085,10078,10072,10082,10075,10084,10077,10086,10078,10073,10082,10076,10085,10077,10071,10081,10075,10084,10076,10085,10078,10072,10082,10075,10084,10077,10070,10081,10075,10084,10076,10085,10078,10072,10082,10075,10084,10077,10071,10081,10075,10084,10076,10085,10078,10072,10082,10075,10084,10077,10071,10081,10074,10083,10076,10085,10077,10072,10082,10075,10084,10076,10069,10080,10074,10083,10076,10085,10077,10072,10082,10075,10084,10076,10070,10080,10074,10083,10076,10085,10077,10072,10081,10075,10084,10076,10071,10080,10074,10083,10076,10085,10077,10072,10081,10075,10084,10076,10071,10080,10074,10083,10076,10085,10077,10072,10081,10075,10084,10076,10071,10080,10074,10089,10077,10071,10081,10075,10084,10077,10072,10081,10075,10083,10076,10071,10080,10077,10074];

// ---- Series (order: lower value is painted on top) ----
const SERIES = [
  { label: 'SV 1', color: '#ff0000', order: 4, values: [ch1_sv1, ch2_sv1, ch3_sv1, ch4_sv1, ch5_sv1, ch6_sv1, ch7_sv1, ch8_sv1] },
  { label: 'SV 2', color: '#ff00ff', order: 3, values: [ch1_sv2, ch2_sv2, ch3_sv2, ch4_sv2, ch5_sv2, ch6_sv2, ch7_sv2, ch8_sv2] },
  { label: 'SV 3', color: '#00ffff', order: 2, values: [ch1_sv3, ch2_sv3, ch3_sv3, ch4_sv3, ch5_sv3, ch6_sv3, ch7_sv3, ch8_sv3] },
  { label: 'SV 4', color: '#0000ff', order: 1, values: [ch1_sv4, ch2_sv4, ch3_sv4, ch4_sv4, ch5_sv4, ch6_sv4, ch7_sv4, ch8_sv4] }
];

// ---- Layout ----
const PANEL_TOPS = [52, 167, 282, 398, 513, 628, 744, 859];
const PANEL_H = 101;
const PLOT_LEFT = 141, PLOT_RIGHT = 1370, PAGE_W = 1501;
const FRAME_COLOR = '#3a3a3a';
const FONT = '"Liberation Sans", Arial, Helvetica, sans-serif';

const page = document.getElementById('page');

function tickText(v) {
  return (v / 1e4).toFixed(4).replace(/0+$/, '');
}

// Frame, inward ticks and tick labels drawn from the chart's own scales
const panelFrame = {
  id: 'panelFrame',
  afterDatasetsDraw(chart, args, opts) {
    const { ctx, chartArea: a, scales: { x, y } } = chart;
    const i = opts.index;
    ctx.save();
    ctx.strokeStyle = FRAME_COLOR;
    ctx.lineWidth = 2;
    ctx.strokeRect(a.left, a.top, a.right - a.left, a.bottom - a.top);
    ctx.beginPath();
    [TICK_LO[i], TICK_HI[i]].forEach(v => {
      const py = Math.round(y.getPixelForValue(v));
      ctx.moveTo(a.left, py); ctx.lineTo(a.left + 13, py);
      ctx.moveTo(a.right - 13, py); ctx.lineTo(a.right, py);
    });
    XTICK_SECONDS.forEach(s => {
      const px = Math.round(x.getPixelForValue(s));
      ctx.moveTo(px, a.top); ctx.lineTo(px, a.top + 12);
      ctx.moveTo(px, a.bottom); ctx.lineTo(px, a.bottom - 12);
    });
    ctx.stroke();

    ctx.fillStyle = '#000';
    ctx.font = '22.5px ' + FONT;
    ctx.textAlign = 'right';
    ctx.textBaseline = 'alphabetic';
    [TICK_LO[i], TICK_HI[i]].forEach(v => {
      const py = y.getPixelForValue(v);
      ctx.save();
      ctx.translate(a.left - 12, py + 10);
      ctx.scale(1.15, 1);
      ctx.fillText(tickText(v), 0, 0);
      ctx.restore();
    });

    if (opts.xLabels) {
      ctx.font = '27.5px ' + FONT;
      ctx.textAlign = 'center';
      XTICK_SECONDS.forEach((s, k) => {
        ctx.fillText(XTICK_LABELS[k], x.getPixelForValue(s), a.bottom + 32.5);
      });
    }
    ctx.restore();
  }
};

CHANNELS.forEach((ch, i) => {
  const padTop = 30, padBottom = i === CHANNELS.length - 1 ? 50 : 30;
  const cv = document.createElement('canvas');
  cv.className = 'panel';
  cv.width = PAGE_W;
  cv.height = PANEL_H + padTop + padBottom;
  cv.style.top = (PANEL_TOPS[i] - padTop) + 'px';
  page.appendChild(cv);

  new Chart(cv, {
    type: 'line',
    data: {
      datasets: SERIES.map(s => ({
        label: s.label,
        data: s.values[i].map((v, k) => ({ x: k * SAMPLE_STEP_S, y: v })),
        borderColor: s.color,
        backgroundColor: s.color,
        borderWidth: 1,
        pointRadius: 0,
        tension: 0,
        fill: false,
        order: s.order
      }))
    },
    options: {
      responsive: false,
      devicePixelRatio: 1,
      animation: false,
      events: [],
      layout: { padding: { left: PLOT_LEFT, right: PAGE_W - PLOT_RIGHT, top: padTop, bottom: padBottom } },
      scales: {
        x: { type: 'linear', min: 0, max: X_MAX_S, display: false },
        y: { type: 'linear', min: AXIS_MIN[i], max: AXIS_MAX[i], display: false }
      },
      plugins: {
        legend: { display: false },
        tooltip: { enabled: false },
        panelFrame: { index: i, xLabels: i === CHANNELS.length - 1 }
      }
    },
    plugins: [panelFrame]
  });
});

// ---- Text placed on the page ----
function addText(str, o) {
  const el = document.createElement('div');
  el.className = 'txt';
  el.textContent = str;
  el.style.fontSize = o.size + 'px';
  if (o.weight) el.style.fontWeight = o.weight;
  page.appendChild(el);
  const w = el.offsetWidth;
  const sx = o.width ? o.width / w : 1;
  const align = o.align || 'left';
  let left = o.x;
  if (align === 'center') left = o.x - w / 2;
  if (align === 'right') left = o.x - w;
  el.style.left = left + 'px';
  el.style.top = (o.baseline - 0.8465 * o.size) + 'px';
  el.style.transformOrigin = (align === 'center' ? '50%' : align === 'right' ? '100%' : '0') + ' 0';
  if (sx !== 1) el.style.transform = 'scaleX(' + sx + ')';
  return el;
}

addText('ATMS d20120102_t0000328_20120104_e0000166SV4_2dOBcor.mat',
        { x: 754, baseline: 30, size: 27, align: 'center', width: 868 });

CHANNELS.forEach((ch, i) => {
  const top = PANEL_TOPS[i];
  addText(ch + 'x10', { x: 1388, baseline: top + 15.5, size: 27 });
  addText('4', { x: 1483, baseline: top + 3.5, size: 17 });

  const el = document.createElement('div');
  el.className = 'txt';
  el.textContent = 'SV Count';
  el.style.fontSize = '22px';
  page.appendChild(el);
  const w = el.offsetWidth, h = el.offsetHeight;
  el.style.left = (24 - w / 2) + 'px';
  el.style.top = (top + PANEL_H / 2 - h / 2) + 'px';
  el.style.transformOrigin = '50% 50%';
  el.style.transform = 'rotate(-90deg) scaleY(1.1)';
});

addText('NASA/GSFC', { x: 1389, baseline: 966, size: 12, weight: 'bold', width: 100 });
addText('HH:MM:SS (GMT)', { x: 753, baseline: 1024, size: 22.5, align: 'center', width: 187 });

// Legend: line swatch and label for each space view
const LEGEND = [
  { s: 0, x: 212, y: 1004, tx: 394, tb: 1013.5 },
  { s: 3, x: 212, y: 1026, tx: 394, tb: 1036.5 },
  { s: 1, x: 936, y: 1004, tx: 1118, tb: 1014 },
  { s: 2, x: 936, y: 1026, tx: 1118, tb: 1037 }
];
LEGEND.forEach(e => {
  const sw = document.createElement('div');
  sw.className = 'swatch';
  sw.style.left = e.x + 'px';
  sw.style.top = e.y + 'px';
  sw.style.width = '146px';
  sw.style.background = SERIES[e.s].color;
  page.appendChild(sw);
  addText(SERIES[e.s].label, { x: e.tx, baseline: e.tb, size: 30, width: 57 });
});
</script>
</body>
</html>
